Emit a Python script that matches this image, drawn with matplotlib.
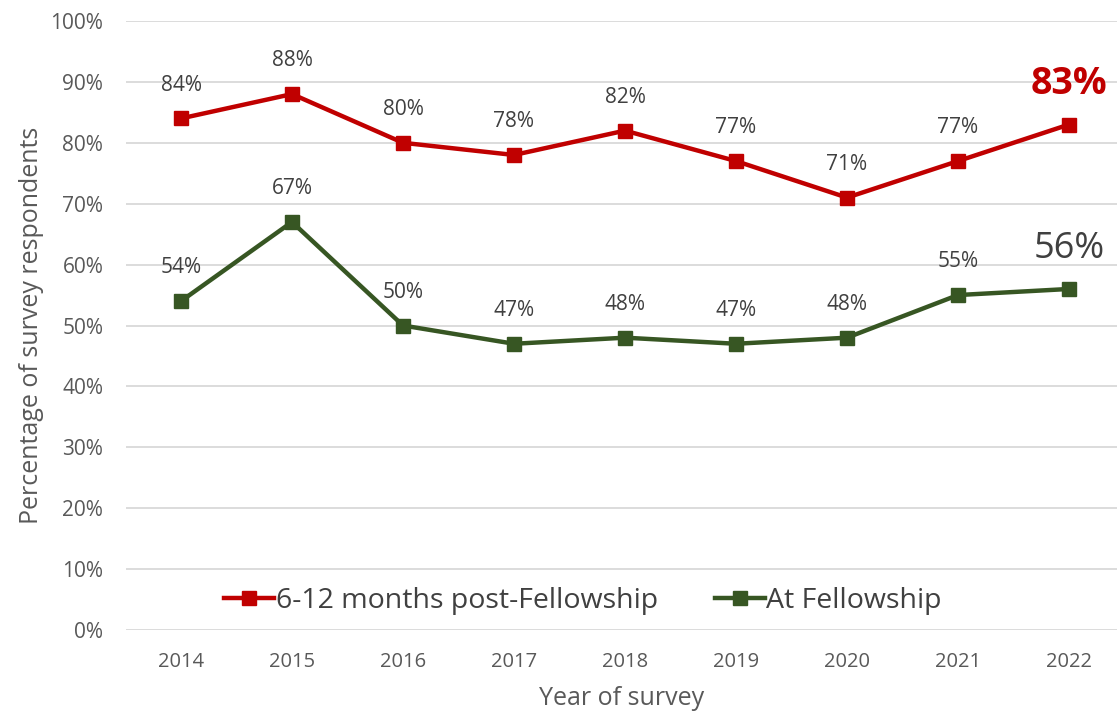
import matplotlib
matplotlib.use("Agg")
import matplotlib.pyplot as plt

years = ["2014", "2015", "2016", "2017", "2018", "2019", "2020", "2021", "2022"]
post_fellowship = [84, 88, 80, 78, 82, 77, 71, 77, 83]
at_fellowship = [54, 67, 50, 47, 48, 47, 48, 55, 56]
series_names = ["6-12 months post-Fellowship", "At Fellowship"]
y_ticks = [0, 10, 20, 30, 40, 50, 60, 70, 80, 90, 100]

RED = "#C00000"
GREEN = "#375623"
plt.rcParams['font.family'] = ['Open Sans', 'DejaVu Sans']

W, H = 1117, 711
fig = plt.figure(figsize=(W / 100, H / 100), dpi=100)
left, right = 125.5, 1117
top, bottom = 21, 630
ax = fig.add_axes([left / W, (H - bottom) / H, (right - left) / W, (bottom - top) / H])

x = list(range(len(years)))
ax.plot(x, post_fellowship, color=RED, lw=3.2, marker="s", ms=10.5,
        label=series_names[0], zorder=3, solid_joinstyle="miter")
ax.plot(x, at_fellowship, color=GREEN, lw=3.2, marker="s", ms=10.5,
        label=series_names[1], zorder=3, solid_joinstyle="miter")

# data labels
for i, v in enumerate(post_fellowship):
    if i == len(years) - 1:
        ax.annotate(f"{v}%", (i, v), xytext=(0, 29), textcoords="offset points",
                    ha="center", va="center", fontsize=27, fontweight="bold", color=RED)
    else:
        ax.annotate(f"{v}%", (i, v), xytext=(0, 24), textcoords="offset points",
                    ha="center", va="center", fontsize=15, color="#404040")
for i, v in enumerate(at_fellowship):
    if i == len(years) - 1:
        ax.annotate(f"{v}%", (i, v), xytext=(0, 29), textcoords="offset points",
                    ha="center", va="center", fontsize=26, color="#404040")
    else:
        ax.annotate(f"{v}%", (i, v), xytext=(0, 24), textcoords="offset points",
                    ha="center", va="center", fontsize=15, color="#404040")

ax.set_xlim(-0.5, 8 + (right - 1069) / 111)
ax.set_ylim(0, 100)
ax.set_xticks(x)
ax.set_xticklabels(years)
ax.set_yticks(y_ticks)
ax.set_yticklabels([f"{t}%" for t in y_ticks])
ax.tick_params(axis="both", length=0, labelcolor="#595959")
ax.tick_params(axis="y", pad=16, labelsize=15)
ax.tick_params(axis="x", pad=16, labelsize=14.5)
ax.grid(axis="y", color="#D9D9D9", lw=1.3)
ax.set_axisbelow(True)
for s in ax.spines.values():
    s.set_visible(False)

ax.set_xlabel("Year of survey", fontsize=18, color="#595959", labelpad=10)
fig.text(32 / W, (H - 325) / H, "Percentage of survey respondents", rotation=90,
         ha="center", va="center", fontsize=18, color="#595959")

leg = ax.legend(loc="center", bbox_to_anchor=((583 - left) / (right - left), (bottom - 601) / (bottom - top)),
                ncol=2, frameon=True, fontsize=20.5, handlelength=1.75, handletextpad=0.05,
                columnspacing=2.0, borderpad=0.2, markerscale=0.9)
leg.get_frame().set_facecolor("white")
leg.get_frame().set_edgecolor("none")
for t in leg.get_texts():
    t.set_color("#404040")

fig.savefig("out.png", dpi=100)
